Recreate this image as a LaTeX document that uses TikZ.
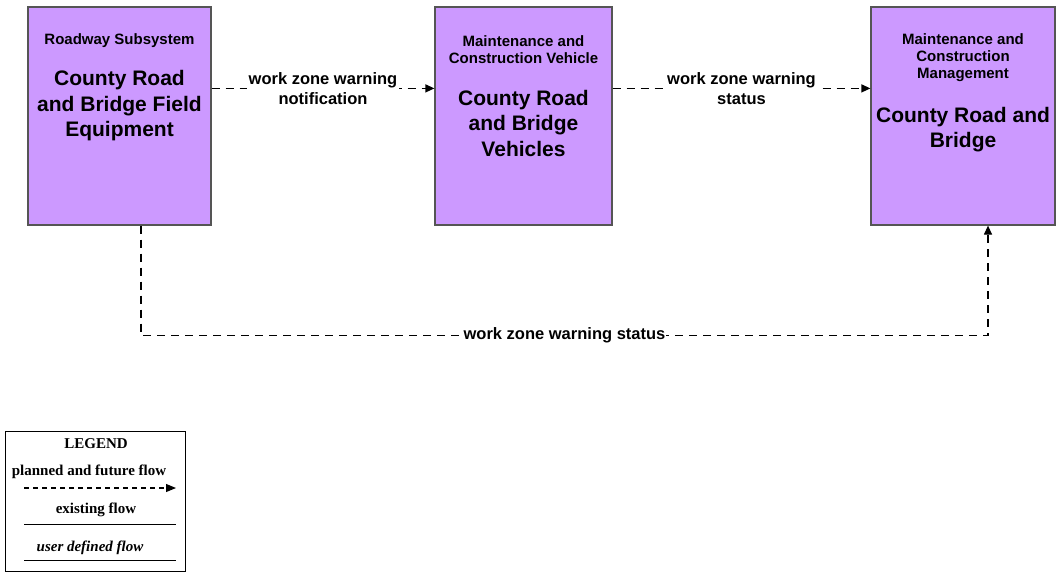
\documentclass[tikz,border=0pt]{standalone}
\usepackage{fontspec}
\setmainfont{Liberation Sans}
\newfontfamily\legendfont{Liberation Serif}
\usepackage{xcolor}
\usetikzlibrary{arrows.meta,positioning}
\definecolor{boxpurple}{RGB}{204,153,255}
\definecolor{boxedge}{RGB}{85,85,85}

\tikzset{
  subsys/.style={draw=boxedge, line width=1.2pt, fill=boxpurple, minimum height=218pt, inner sep=0pt},
  kind/.style={font=\bfseries\fontsize{15}{17}\selectfont, align=center, inner sep=0pt},
  title/.style={font=\bfseries\fontsize{21}{25.5}\selectfont, align=center, inner sep=0pt},
  flowlabel/.style={font=\bfseries\fontsize{16.5}{20}\selectfont, align=center, fill=white, inner sep=2pt},
  planned/.style={dash pattern=on 8pt off 6pt, line width=1.2pt, -{Triangle[length=9pt,width=8pt]}},
  legendtext/.style={font=\legendfont\bfseries\fontsize{15}{17}\selectfont, inner sep=0pt},
}

\begin{document}
\begin{tikzpicture}[x=1pt,y=-1pt]
\useasboundingbox (0,0) rectangle (1061,576);

% subsystems
\node[subsys, minimum width=183pt] (field) at (119.5,116) {};
\node[kind] (fieldkind) at (119.5,41) {Roadway Subsystem};
\node[title] (fieldname) at (119.5,106) {County Road\\and Bridge Field\\Equipment};

\node[subsys, minimum width=177pt] (vehicles) at (523.5,116) {};
\node[kind] (vehicleskind) at (523.5,49.5) {Maintenance and\\Construction Vehicle};
\node[title] (vehiclesname) at (523.5,123) {County Road\\and Bridge\\Vehicles};

\node[subsys, minimum width=184pt] (mgmt) at (963,116) {};
\node[kind] (mgmtkind) at (963,58) {Maintenance and\\Construction\\Management};
\node[title] (mgmtname) at (963,129.5) {County Road and\\Bridge};

% flows
\draw[planned] ([yshift=-82pt]field.north east) -- node[flowlabel] {work zone warning\\notification} ([yshift=-82pt]vehicles.north west);
\draw[planned] ([yshift=-82pt]vehicles.north east) -- node[flowlabel] {work zone warning\\status} ([yshift=-82pt]mgmt.north west);
\draw[planned] ([xshift=21.5pt]field.south) -- ++(0,110) -| node[flowlabel, pos=0.25, inner sep=1pt] {work zone warning status} ([xshift=25pt]mgmt.south);

% legend
\node[draw, line width=1pt, minimum width=180pt, minimum height=140pt, inner sep=0pt] (legend) at (95,501.5) {};
\node[legendtext] (legendhead) at (96,444) {LEGEND};
\node[legendtext] (plannedtext) at (89,472) {planned and future flow};
\coordinate (plannedstart) at (24,488);
\coordinate (plannedend) at (176,488);
\draw[dash pattern=on 5pt off 4pt, line width=1.1pt, -{Triangle[length=10pt,width=8pt]}] (plannedstart) -- (plannedend);
\node[legendtext] (existingtext) at (96,510) {existing flow};
\coordinate (existingstart) at (24,524);
\coordinate (existingend) at (176,524);
\draw[line width=1pt] (existingstart) -- (existingend);
\node[legendtext, font=\legendfont\bfseries\itshape\fontsize{15}{17}\selectfont] (usertext) at (90,548) {user defined flow};
\coordinate (userstart) at (24,560);
\coordinate (userend) at (176,560);
\draw[line width=1pt] (userstart) -- (userend);

\end{tikzpicture}
\end{document}
